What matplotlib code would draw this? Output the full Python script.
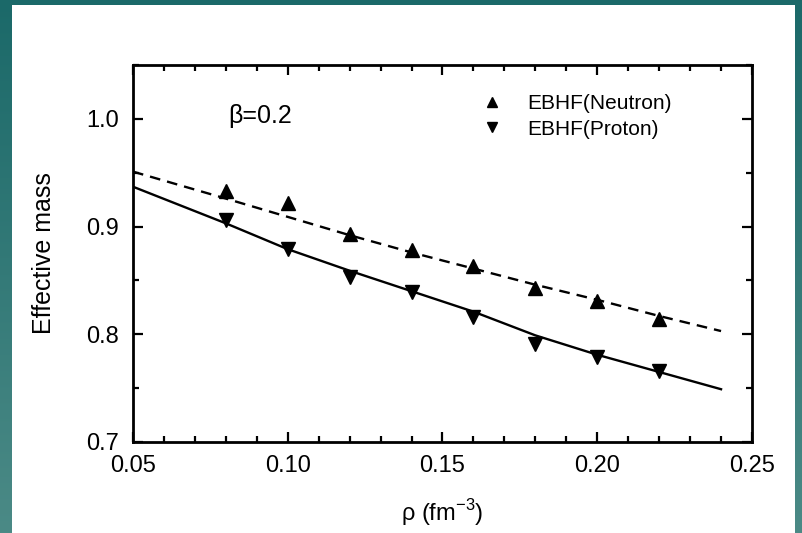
import numpy as np
import matplotlib
matplotlib.use("Agg")
import matplotlib.pyplot as plt
from matplotlib.patches import Rectangle

plt.rcParams['font.family'] = ['Liberation Sans', 'DejaVu Sans']

# data
rho_pts = [0.08, 0.10, 0.12, 0.14, 0.16, 0.18, 0.20, 0.22]
neutron_pts = [0.933, 0.922, 0.893, 0.878, 0.863, 0.843, 0.831, 0.814]
proton_pts = [0.906, 0.879, 0.853, 0.839, 0.816, 0.791, 0.779, 0.766]

rho_curve = [0.05, 0.08, 0.10, 0.12, 0.14, 0.16, 0.18, 0.20, 0.22, 0.24]
neutron_curve = [0.951, 0.926, 0.909, 0.892, 0.876, 0.861, 0.846, 0.832, 0.817, 0.803]
proton_curve = [0.937, 0.903, 0.879, 0.859, 0.840, 0.821, 0.799, 0.781, 0.765, 0.749]

xticks = [0.05, 0.10, 0.15, 0.20, 0.25]
xticklabels = ['0.05', '0.10', '0.15', '0.20', '0.25']
yticks = [0.7, 0.8, 0.9, 1.0]
yticklabels = ['0.7', '0.8', '0.9', '1.0']

W, H = 802, 533
fig = plt.figure(figsize=(W / 100, H / 100), dpi=100)

# teal frame background with gradient
bg = fig.add_axes([0, 0, 1, 1])
bg.set_axis_off()
grad = np.linspace(0, 1, 256).reshape(-1, 1)
c_top = np.array([27, 105, 105]) / 255
c_bot = np.array([75, 138, 134]) / 255
img = c_top[None, None, :] * (1 - grad[:, :, None]) + c_bot[None, None, :] * grad[:, :, None]
bg.imshow(img, aspect='auto', extent=[0, 1, 0, 1], origin='upper')
bg.add_patch(Rectangle((12 / W, 0), (795 - 12) / W, (H - 5) / H, facecolor='white',
                       edgecolor='none', transform=bg.transAxes))
bg.set_xlim(0, 1)
bg.set_ylim(0, 1)

ax = fig.add_axes([133 / W, 1 - 442 / H, (752 - 133) / W, (442 - 65) / H])
ax.set_facecolor('none')

ax.plot(rho_curve, neutron_curve, color='black', lw=1.7, ls=(0, (4.5, 3)))
ax.plot(rho_curve, proton_curve, color='black', lw=1.7, ls='-')
ax.plot(rho_pts, neutron_pts, ls='none', marker='^', ms=10, color='black',
        label='EBHF(Neutron)')
ax.plot(rho_pts, proton_pts, ls='none', marker='v', ms=10, color='black',
        label='EBHF(Proton)')

ax.set_xlim(0.05, 0.25)
ax.set_ylim(0.7, 1.05)
ax.set_xticks(xticks)
ax.set_xticklabels(xticklabels)
ax.set_yticks(yticks)
ax.set_yticklabels(yticklabels)
ax.set_xticks(np.arange(0.05, 0.2501, 0.01), minor=True)
ax.set_yticks(np.arange(0.7, 1.0501, 0.05), minor=True)
ax.tick_params(which='both', direction='in', top=True, right=True, width=1.6)
ax.tick_params(which='major', length=7, labelsize=17)
ax.tick_params(axis='x', which='major', pad=9)
ax.tick_params(axis='y', which='major', pad=10)
ax.tick_params(which='minor', length=4)
for s in ax.spines.values():
    s.set_linewidth(2.0)

ax.set_xlabel(r'ρ (fm$^{\mathregular{-3}}$)', fontsize=17, labelpad=15)
ax.set_ylabel('Effective mass', fontsize=18, labelpad=22)

ax.text(0.0807, 1.003, 'β=0.2', fontsize=18, ha='left', va='center')

ax.legend(loc='upper left', bbox_to_anchor=(0.554, 0.922), frameon=False,
          fontsize=15, markerscale=0.75, handletextpad=0.95, labelspacing=0.3,
          handlelength=1.5, borderpad=0, borderaxespad=0)

fig.savefig('out.png', dpi=100)
